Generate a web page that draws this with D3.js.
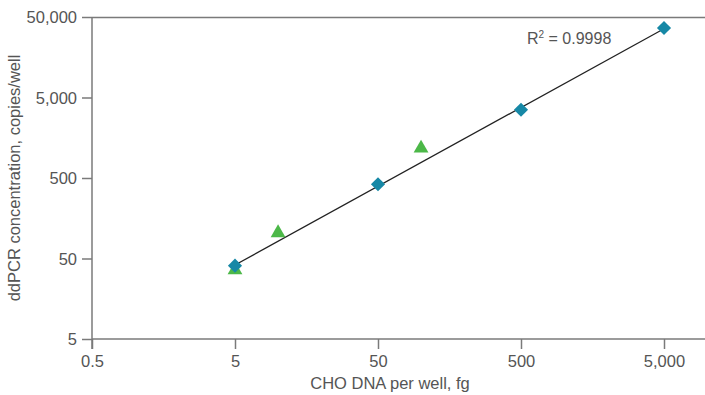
<!DOCTYPE html>
<html><head><meta charset="utf-8">
<script src="https://cdn.jsdelivr.net/npm/d3@7"></script>
<style>body{margin:0;background:#fff;}svg{display:block;font-family:"Liberation Sans",Arial,sans-serif;}</style>
</head><body><svg id="c" width="705" height="395"></svg>
<script>
const xTicks = [0.5, 5, 50, 500, 5000];
const yTicks = [5, 50, 500, 5000, 50000];
const blueX = [5, 50, 500, 5000];
const blueY = [40.7, 418, 3520, 36500];
const greenX = [5, 10, 100];
const greenY = [36, 104, 1170];
const fitX = [5, 5000];
const fitY = [41.5, 35700];
const r2Text = "0.9998";

const svg = d3.select("#c");
const L = 92, R = 705, T = 17, B = 339;
const xEnd = 664;
const x = d3.scaleLog().domain([0.5, 5000]).range([L, xEnd]);
const y = d3.scaleLog().domain([5, 50000]).range([B, T]);
const fmt = d3.format(",");
const gray = "#7a7a7a";
const txt = "#555";

svg.append("line").attr("x1", L).attr("x2", R).attr("y1", T + 0.5).attr("y2", T + 0.5)
  .attr("stroke", gray).attr("stroke-width", 1.5);

const xa = svg.append("g").attr("transform", `translate(0,${B})`)
  .call(d3.axisBottom(x).tickValues(xTicks).tickFormat(d => d < 1 ? "0.5" : fmt(d)).tickSizeOuter(0).tickSize(10).tickPadding(6));
xa.select(".domain").remove();
svg.append("line").attr("x1", L).attr("x2", R).attr("y1", B).attr("y2", B).attr("stroke", gray).attr("stroke-width", 1.5);

const ya = svg.append("g").attr("transform", `translate(${L},0)`)
  .call(d3.axisLeft(y).tickValues(yTicks).tickFormat(fmt).tickSizeOuter(0).tickSize(10).tickPadding(5));
ya.select(".domain").remove();
svg.append("line").attr("x1", L).attr("x2", L).attr("y1", T).attr("y2", B + 10).attr("stroke", gray).attr("stroke-width", 1.5);

[xa, ya].forEach(g => {
  g.selectAll(".tick line").attr("stroke", gray).attr("stroke-width", 1.5);
  g.selectAll(".tick text").attr("fill", txt).attr("font-size", 16.5);
});
ya.selectAll(".tick text").attr("dy", "0.35em");

svg.append("text").attr("x", (L + xEnd) / 2 + 12).attr("y", 389).attr("text-anchor", "middle")
  .attr("fill", txt).attr("font-size", 16.5).text("CHO DNA per well, fg");
svg.append("text").attr("transform", `translate(20,${(T + B) / 2}) rotate(-90)`).attr("text-anchor", "middle")
  .attr("fill", txt).attr("font-size", 16.5).text("ddPCR concentration, copies/well");

svg.append("line").attr("x1", x(fitX[0])).attr("y1", y(fitY[0])).attr("x2", x(fitX[1])).attr("y2", y(fitY[1]))
  .attr("stroke", "#222").attr("stroke-width", 1.3);

svg.selectAll(".tri").data(greenX.map((d, i) => [d, greenY[i]])).enter().append("path")
  .attr("d", d3.symbol().type(d3.symbolTriangle).size(95))
  .attr("transform", d => `translate(${x(d[0])},${y(d[1])})`)
  .attr("fill", "#4cb848");

svg.selectAll(".dia").data(blueX.map((d, i) => [d, blueY[i]])).enter().append("rect")
  .attr("x", -5).attr("y", -5).attr("width", 10).attr("height", 10)
  .attr("transform", d => `translate(${x(d[0])},${y(d[1])}) rotate(45)`)
  .attr("fill", "#1688a6");

const t = svg.append("text").attr("x", 527).attr("y", 44).attr("fill", txt).attr("font-size", 16);
t.append("tspan").text("R");
t.append("tspan").attr("font-size", 10).attr("dy", -6).text("2");
t.append("tspan").attr("dy", 6).text(" = " + r2Text);
</script></body></html>
